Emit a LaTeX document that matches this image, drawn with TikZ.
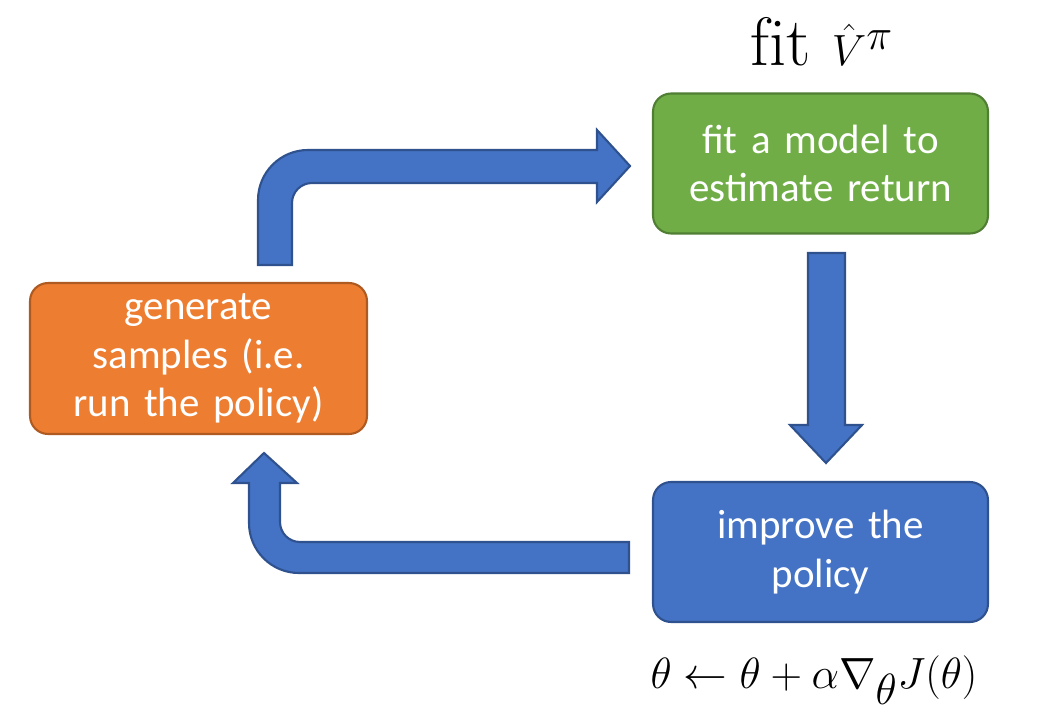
\documentclass[tikz,border=0pt]{standalone}
\usepackage{fontspec}
\newfontfamily\carl{Carlito}
\begin{document}
\begin{tikzpicture}[x=0.02cm,y=-0.02cm,
  box/.style={rounded corners=0.36cm,line width=1.2pt,minimum width=6.7cm,minimum height=2.8cm,text width=6.4cm,align=center,text=white,font=\carl\fontsize{23.3}{27.5}\selectfont},
  arr/.style={fill=blue1,draw=blue2,line width=1.2pt,line join=miter}]
\definecolor{orange1}{HTML}{ED7D31}\definecolor{orange2}{HTML}{AE5A21}
\definecolor{green1}{HTML}{70AD47}\definecolor{green2}{HTML}{507E32}
\definecolor{blue1}{HTML}{4472C4}\definecolor{blue2}{HTML}{2F528F}
\useasboundingbox (0,0) rectangle (1050,726);
\node[box,fill=orange1,draw=orange2,minimum width=6.74cm,minimum height=3.02cm] (gen) at (198.5,358.5) {generate\\samples (i.e.\\run the policy)};
\node[box,fill=green1,draw=green2] (fit) at (820.5,163.5) {fit a model to\\estimate return};
\node[box,fill=blue1,draw=blue2] (imp) at (820.5,552) {improve the\\policy};
\node (fl) at (822,42) {\fontsize{39}{40}\selectfont $\mathrm{fit}\ \hat V^{\pi}$};
\node (ul) at (814,680) {\fontsize{39}{40}\selectfont $\theta \leftarrow \theta + \alpha \nabla_\theta J(\theta)$};
% down arrow
\draw[arr] (808,253) -- (845,253) -- (845,425) -- (862,425) -- (826,463) -- (790,425) -- (808,425) -- cycle;
% top bent arrow
\draw[arr] (258,265) [rounded corners=1cm] -- (258,150) [sharp corners] -- (597,150) -- (597,130) -- (630,166) -- (597,202) -- (597,183) [rounded corners=0.4cm] -- (292,183) [sharp corners] -- (292,265) -- cycle;
% bottom bent arrow
\draw[arr] (629,542) -- (629,573) [rounded corners=1cm] -- (249,573) [sharp corners] -- (249,483) -- (233,483) -- (264,453) -- (297,483) -- (280,483) [rounded corners=0.4cm] -- (280,542) [sharp corners] -- cycle;
\end{tikzpicture}
\end{document}
